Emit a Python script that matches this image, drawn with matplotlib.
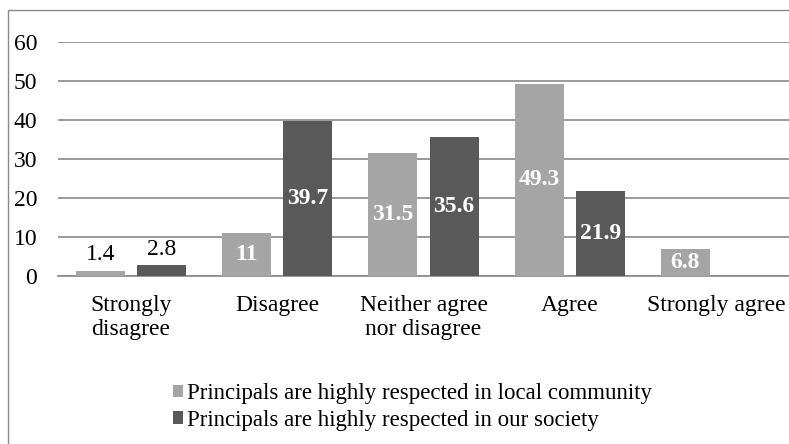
import matplotlib
matplotlib.use("Agg")
import matplotlib.pyplot as plt
import numpy as np
from matplotlib.patches import Rectangle

categories = ["Strongly\ndisagree", "Disagree", "Neither agree\nnor disagree", "Agree", "Strongly agree"]
local_community = [1.4, 11, 31.5, 49.3, 6.8]
our_society = [2.8, 39.7, 35.6, 21.9, 0]
series_names = ["Principals are highly respected in local community",
                "Principals are highly respected in our society"]
yticks = [0, 10, 20, 30, 40, 50, 60]

plt.rcParams['font.family'] = ['Liberation Serif', 'DejaVu Serif']
plt.rcParams['font.size'] = 17

fig = plt.figure(figsize=(7.89, 4.44), dpi=100)
ax = fig.add_axes([58 / 789, 1 - 276 / 444, 731 / 789, 234 / 444])

# frame around the chart (cut off on the right and bottom like the source)
fig.patches.append(Rectangle((8 / 789, -0.1), 1.2, 1 - 10 / 444 + 0.1, transform=fig.transFigure,
                             fill=False, edgecolor='#898989', linewidth=1.0))

x = np.arange(len(categories))
w = 0.335
off = 0.209
colors = ['#A5A5A5', '#595959']

for vals, dx, col, name in [(local_community, -off, colors[0], series_names[0]),
                            (our_society, off, colors[1], series_names[1])]:
    bars = ax.bar(x + dx, vals, width=w, color=col, label=name, zorder=3)
    for b, v in zip(bars, vals):
        if v == 0:
            continue
        cx = b.get_x() + b.get_width() / 2
        if v < 5:
            ax.text(cx, v + 1.3, f"{v:g}", ha='center', va='bottom', color='black', fontsize=17)
        else:
            ax.text(cx, v / 2, f"{v:g}", ha='center', va='center', color='white',
                    fontweight='bold', fontsize=17)

ax.set_xlim(-0.5, len(categories) - 0.5)
ax.set_ylim(0, 60)
ax.set_yticks(yticks)
ax.set_xticks(x)
ax.set_xticklabels(categories, fontsize=17, linespacing=1.18)
ax.tick_params(axis='y', length=0, pad=15, labelsize=17)
ax.tick_params(axis='x', length=0, pad=14)
ax.yaxis.grid(True, color='#898989', linewidth=1.2, zorder=0)
for s in ['top', 'right', 'left']:
    ax.spines[s].set_visible(False)
ax.spines['bottom'].set_color('#898989')
ax.spines['bottom'].set_linewidth(1.2)

leg = fig.legend(loc='upper left', bbox_to_anchor=(173 / 789, 1 - 383 / 444), frameon=False,
                 handlelength=0.45, handleheight=0.45, handletextpad=0.15, labelspacing=0.25,
                 fontsize=16.5, borderpad=0, borderaxespad=0)

fig.savefig("out.png", dpi=100)
